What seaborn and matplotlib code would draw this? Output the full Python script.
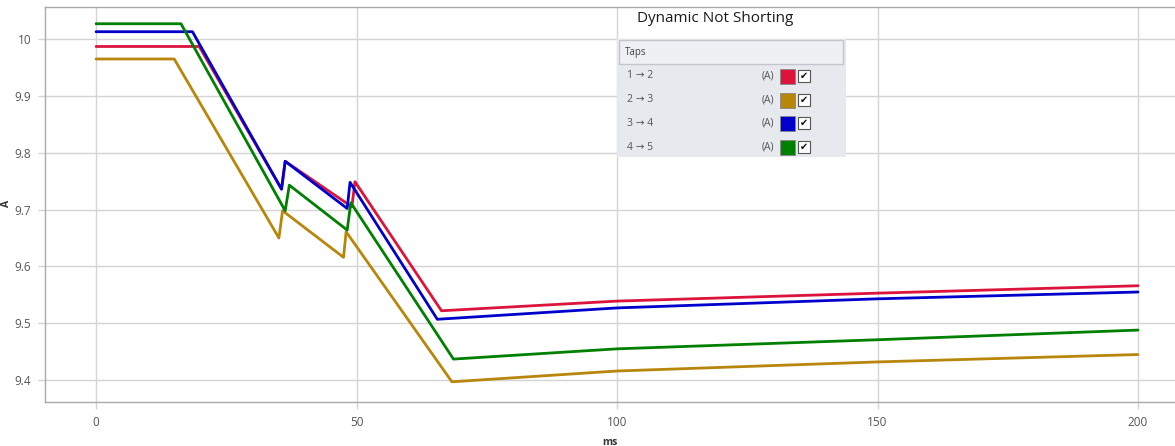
import matplotlib
matplotlib.use("Agg")
import matplotlib.pyplot as plt
import matplotlib.patches as mpatches
from matplotlib.ticker import FuncFormatter
import numpy as np
import pandas as pd
import seaborn as sns

# ---- data ----
series_names = ["1 \u2192 2", "2 \u2192 3", "3 \u2192 4", "4 \u2192 5"]
series_colors = ["#dc143c", "#b8860b", "#0000cd", "#008000"]

t_12 = [0, 19.8, 35.6, 36.3, 49.1, 49.7, 66.3, 100, 150, 200]
a_12 = [9.987, 9.987, 9.736, 9.785, 9.705, 9.749, 9.522, 9.539, 9.553, 9.566]

t_23 = [0, 15.0, 35.1, 35.8, 47.5, 48.0, 68.3, 100, 150, 200]
a_23 = [9.965, 9.965, 9.650, 9.698, 9.616, 9.661, 9.397, 9.416, 9.432, 9.445]

t_34 = [0, 18.5, 35.6, 36.3, 48.2, 48.75, 65.5, 100, 150, 200]
a_34 = [10.013, 10.013, 9.736, 9.785, 9.702, 9.748, 9.507, 9.527, 9.543, 9.555]

t_45 = [0, 16.3, 36.3, 37.1, 48.2, 48.9, 68.6, 100, 150, 200]
a_45 = [10.027, 10.027, 9.698, 9.743, 9.664, 9.712, 9.437, 9.455, 9.471, 9.488]

x_ticks = [0, 50, 100, 150, 200]
y_ticks = [9.4, 9.5, 9.6, 9.7, 9.8, 9.9, 10.0]
title = "Dynamic Not Shorting"
legend_header = "Taps"
unit_label = "(A)"

frames = []
for name, t, a in zip(series_names, [t_12, t_23, t_34, t_45], [a_12, a_23, a_34, a_45]):
    frames.append(pd.DataFrame({"ms": t, "A": a, "tap": name}))
df = pd.concat(frames, ignore_index=True)

# ---- plot ----
sns.set_theme(style="white")
plt.rcParams["font.family"] = ["Open Sans", "DejaVu Sans"]

W, H = 1175, 446
fig = plt.figure(figsize=(W / 100, H / 100), dpi=100)
ax = fig.add_axes([45 / W, 1 - 401.7 / H, (1175 - 45) / W, (401.7 - 6.7) / H])

grid_c = "#d4d4d4"
sns.lineplot(data=df, x="ms", y="A", hue="tap", palette=series_colors,
             hue_order=series_names, sort=False, estimator=None,
             linewidth=2.0, legend=False, ax=ax, zorder=3)

ax.set_xlim(-9.8, 207.1)
ax.set_ylim(9.362, 10.057)
ax.set_xticks(x_ticks)
ax.set_yticks(y_ticks)
ax.yaxis.set_major_formatter(FuncFormatter(lambda v, p: f"{v:g}"))
ax.grid(True, color=grid_c, linewidth=1.0, zorder=0)
ax.tick_params(axis="both", colors=grid_c, labelcolor="#555555", labelsize=8.5,
               length=5, width=1.0, direction="out", left=True, bottom=True)
ax.tick_params(axis="y", pad=5)
ax.tick_params(axis="x", pad=5)
for s in ["left", "bottom", "top"]:
    ax.spines[s].set_color("#a9a9a9")
    ax.spines[s].set_linewidth(1.0)
ax.spines["right"].set_visible(False)

ax.set_xlabel("ms", fontsize=7.5, fontweight="bold", color="#333333")
ax.set_ylabel("A", fontsize=7.5, fontweight="bold", color="#333333")
ax.xaxis.set_label_coords(0.5, -(437 - 401.7) / 395)
ax.yaxis.set_label_coords(-(45 - 12) / 1130, (401.7 - 203) / 395)

# ---- title & legend panel (figure pixel coordinates) ----
def fx(px):
    return px / W

def fy(py):
    return 1 - py / H

fig.text(fx(715), fy(19), title, ha="center", va="center", fontsize=11, color="#1a1a1a")

panel = mpatches.Rectangle((fx(617), fy(157)), fx(846) - fx(617), fy(39) - fy(157),
                           transform=fig.transFigure, facecolor="#e6e9ed",
                           edgecolor="none", zorder=5)
fig.patches.append(panel)
header = mpatches.Rectangle((fx(619), fy(64)), fx(843) - fx(619), fy(40) - fy(64),
                            transform=fig.transFigure, facecolor="#eef0f3",
                            edgecolor="#c2c6cc", linewidth=1.0, zorder=6)
fig.patches.append(header)
fig.text(fx(625), fy(52), legend_header, ha="left", va="center", fontsize=7,
         color="#444444", zorder=7)

row_y = [76, 100, 123, 147]
for name, col, ry in zip(series_names, series_colors, row_y):
    fig.text(fx(627), fy(ry), name, ha="left", va="center", fontsize=7.5,
             color="#555555", zorder=7, family=["Open Sans", "DejaVu Sans"])
    fig.text(fx(762), fy(ry), unit_label, ha="left", va="center", fontsize=7.5,
             color="#555555", zorder=7)
    sw = mpatches.Rectangle((fx(780), fy(ry + 7.5)), fx(15), 15 / H,
                            transform=fig.transFigure, facecolor=col,
                            edgecolor="#888888", linewidth=0.6, zorder=7)
    fig.patches.append(sw)
    cb = mpatches.Rectangle((fx(798), fy(ry + 6)), fx(12), 12 / H,
                            transform=fig.transFigure, facecolor="white",
                            edgecolor="#555555", linewidth=0.8, zorder=7)
    fig.patches.append(cb)
    fig.text(fx(804), fy(ry), "\u2714", ha="center", va="center", fontsize=7,
             color="#111111", zorder=8, family=["DejaVu Sans"])

fig.savefig("out.png", dpi=100)
